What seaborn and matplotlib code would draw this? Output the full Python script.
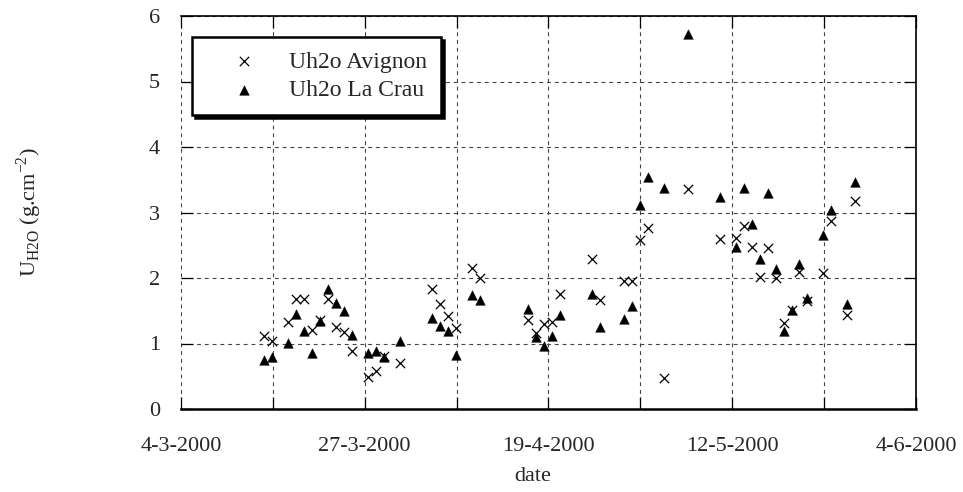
import pandas as pd
import matplotlib.pyplot as plt
import matplotlib.dates as mdates
import seaborn as sns

# -------------------------------
# Data
# -------------------------------
dates = ['14-3-2000', '15-3-2000', '17-3-2000', '18-3-2000', '19-3-2000', '20-3-2000',
         '21-3-2000', '22-3-2000', '23-3-2000', '24-3-2000', '25-3-2000', '27-3-2000',
         '28-3-2000', '29-3-2000', '31-3-2000', '4-4-2000', '5-4-2000', '6-4-2000',
         '7-4-2000', '9-4-2000', '10-4-2000', '16-4-2000', '17-4-2000', '18-4-2000',
         '19-4-2000', '20-4-2000', '24-4-2000', '25-4-2000', '28-4-2000', '29-4-2000',
         '30-4-2000', '1-5-2000', '3-5-2000', '6-5-2000', '10-5-2000', '12-5-2000',
         '13-5-2000', '14-5-2000', '15-5-2000', '16-5-2000', '17-5-2000', '18-5-2000',
         '19-5-2000', '20-5-2000', '21-5-2000', '23-5-2000', '24-5-2000', '26-5-2000',
         '27-5-2000']

avignon = [1.11, 1.04, 1.33, 1.68, 1.68, 1.21, 1.36, 1.68, 1.25, 1.18, 0.89, 0.49,
           0.58, 0.81, 0.70, 1.83, 1.60, 1.42, 1.24, 2.15, 2.00, 1.36, 1.16, 1.30,
           1.33, 1.76, 2.29, 1.66, 1.96, 1.96, 2.58, 2.76, 0.47, 3.36, 2.59, 2.61,
           2.79, 2.47, 2.02, 2.46, 2.00, 1.31, 1.51, 2.09, 1.65, 2.08, 2.87, 1.44,
           3.18]

la_crau = [0.75, 0.79, 1.01, 1.45, 1.19, 0.85, 1.34, 1.83, 1.62, 1.50, 1.13, 0.85,
           0.88, 0.79, 1.04, 1.39, 1.27, 1.19, 0.82, 1.74, 1.66, 1.52, 1.10, 0.96,
           1.11, 1.43, 1.76, 1.25, 1.37, 1.57, 3.12, 3.54, 3.37, 5.72, 3.24, 2.47,
           3.37, 2.82, 2.29, 3.30, 2.14, 1.19, 1.51, 2.21, 1.69, 2.66, 3.04, 1.60,
           3.47]

tick_dates = ['4-3-2000', '27-3-2000', '19-4-2000', '12-5-2000', '4-6-2000']
y_ticks = [0, 1, 2, 3, 4, 5, 6]

df = pd.DataFrame({
    'date': pd.to_datetime(dates, format='%d-%m-%Y') + pd.Timedelta(hours=10),
    'Uh2o Avignon': avignon,
    'Uh2o La Crau': la_crau,
})

# -------------------------------
# Style
# -------------------------------
sns.set_style('white')
plt.rcParams['font.family'] = ['Liberation Serif', 'DejaVu Serif']
plt.rcParams['mathtext.fontset'] = 'custom'
plt.rcParams['mathtext.rm'] = 'Liberation Serif'

fig = plt.figure(figsize=(9.63, 4.92), dpi=100)
ax = fig.add_axes([181 / 963, 1 - 409 / 492, 735 / 963, 393 / 492])

sns.scatterplot(data=df, x='date', y='Uh2o Avignon', marker='x', color='black',
                s=45, linewidth=0.9, label='Uh2o Avignon', ax=ax, zorder=3)
sns.scatterplot(data=df, x='date', y='Uh2o La Crau', marker='^', color='black',
                s=48, edgecolor='black', linewidth=0.3, label='Uh2o La Crau', ax=ax, zorder=3)

# -------------------------------
# Axes
# -------------------------------
ticks = pd.to_datetime(tick_dates, format='%d-%m-%Y')
tick_nums = mdates.date2num(ticks)
minor_nums = (tick_nums[:-1] + tick_nums[1:]) / 2

ax.set_xlim(tick_nums[0], tick_nums[-1])
ax.set_xticks(tick_nums)
ax.set_xticklabels([f'{d.day}-{d.month}-{d.year}' for d in ticks])
ax.set_xticks(minor_nums, minor=True)
ax.set_ylim(0, 6)
ax.set_yticks(y_ticks)

ax.grid(True, which='both', axis='both', color='#444444', linestyle=(0, (3.5, 3.5)),
        linewidth=0.8)
ax.set_axisbelow(True)

for side in ['top', 'right', 'bottom']:
    ax.spines[side].set_color('black')
ax.spines['top'].set_linewidth(1.2)
ax.spines['right'].set_linewidth(1.2)
ax.spines['bottom'].set_linewidth(1.8)
ax.spines['left'].set_visible(False)

ax.tick_params(axis='both', which='both', direction='in', length=8.5, width=0.9,
               color='black', top=True, right=True, bottom=True, left=True)
ax.tick_params(axis='x', labelsize=16, pad=20)
ax.tick_params(axis='y', labelsize=16, pad=15)

ax.set_xlabel('date', fontsize=16)
ax.xaxis.set_label_coords(0.479, -0.148)
ax.set_ylabel(r'U$_{\mathregular{H2O}}$ (g.cm$^{\mathregular{-2}}$)', fontsize=16)
ax.yaxis.set_label_coords(-0.187, 0.5)

leg = ax.legend(loc='upper left', bbox_to_anchor=(0.015, 0.947), borderaxespad=0,
                frameon=True, fancybox=False, framealpha=1, edgecolor='black',
                shadow={'color': 'black', 'alpha': 1}, fontsize=17,
                handlelength=3.2, handletextpad=0.3, borderpad=0.6, labelspacing=0.3)
leg.get_frame().set_linewidth(1.8)

plt.savefig('out.png', dpi=100)
